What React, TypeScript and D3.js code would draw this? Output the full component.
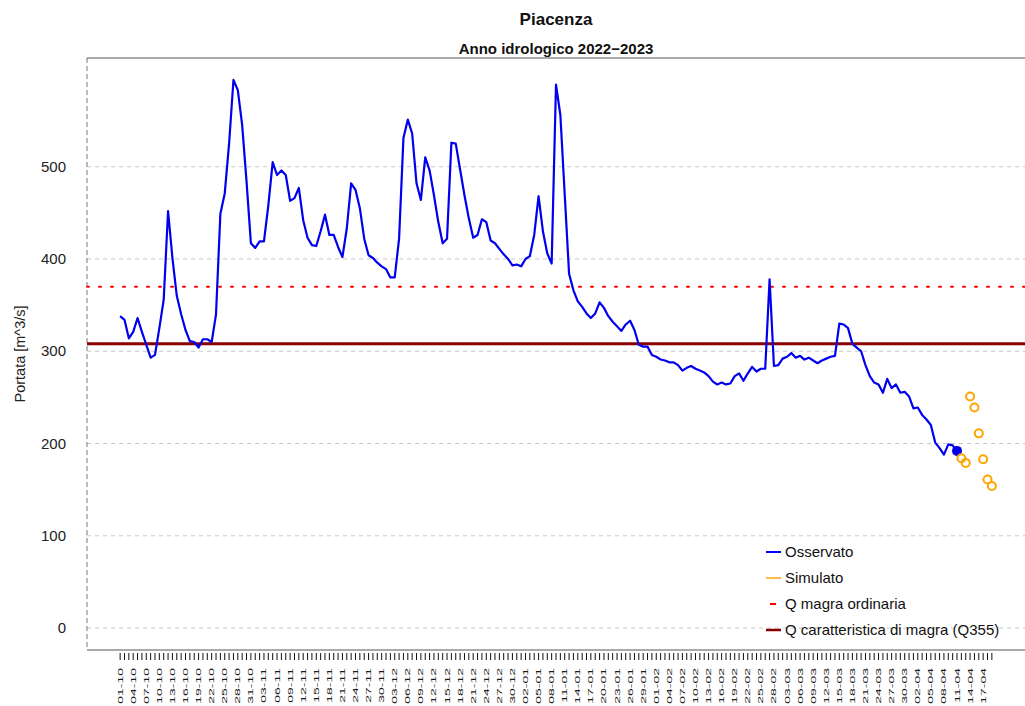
import React from "react";
import * as d3 from "d3";

// hydrological year starts on 1 October
const startDate = new Date(2022, 9, 1);
const endDate = new Date(2023, 3, 20);

// observed daily discharge [m^3/s], one value per day from 01-10-2022
const observed = [
  338, 334, 314, 321, 336, 321, 307, 293, 296, 325,
  356, 452, 401, 360, 340, 323, 311, 310, 304, 313,
  313, 310, 340, 449, 471, 525, 594, 583, 545, 484,
  417, 412, 419, 419, 458, 505, 491, 496, 491, 463,
  466, 477, 442, 423, 415, 414, 430, 448, 426, 426,
  413, 402, 433, 482, 475, 455, 422, 404, 401, 396,
  392, 389, 380, 380, 422, 531, 551, 536, 482, 464,
  510, 496, 469, 440, 417, 422, 526, 525, 497, 469,
  444, 423, 426, 443, 440, 420, 417, 411, 405, 400,
  393, 394, 392, 400, 403, 426, 468, 430, 406, 395,
  589, 556, 470, 384, 366, 354, 348, 341, 336, 341,
  353, 347, 338, 332, 327, 322, 329, 333, 323, 307,
  305, 305, 296, 294, 291, 290, 288, 288, 285, 279,
  282, 284, 281, 279, 277, 273, 267, 264, 266, 264,
  265, 273, 276, 268, 276, 283, 278, 281, 281, 378,
  284, 285, 292, 294, 298, 293, 295, 291, 293, 290,
  287, 290, 292, 294, 295, 330, 329, 325, 308, 304,
  300, 285, 273, 266, 264, 255, 270, 260, 264, 255,
  256, 251, 238, 239, 231, 226, 220, 201, 195, 188,
  199, 198, 192,
];

// simulated values
const simDates = ["2023-04-12", "2023-04-13", "2023-04-14", "2023-04-15", "2023-04-16", "2023-04-17", "2023-04-18", "2023-04-19"];
const simValues = [184, 179, 251, 239, 211, 183, 161, 154];

const qMagraOrdinaria = 370;
const q355 = 308;
const yTicks = [0, 100, 200, 300, 400, 500];

const legendItems = [
  { label: "Osservato", color: "blue", width: 2, x1: 766, x2: 781 },
  { label: "Simulato", color: "orange", width: 1.5, x1: 766, x2: 781 },
  { label: "Q magra ordinaria", color: "red", width: 2, x1: 770, x2: 776 },
  { label: "Q caratteristica di magra (Q355)", color: "darkred", width: 2.5, x1: 766, x2: 781 },
];

const W = 1025;
const H = 706;
const font = "'Liberation Sans', Arial, Helvetica, sans-serif";

export default function App() {
  const days = d3.timeDay.range(startDate, endDate);
  const fmt = d3.timeFormat("%d-%m");
  const parse = d3.timeParse("%Y-%m-%d");

  const left = 87, right = 1025, top = 58, bottom = 650;
  const x = d3.scaleLinear().domain([-7.6, 207.6]).range([left, right]);
  const y = d3.scaleLinear().domain([-23.8, 617.8]).range([bottom, top]);

  const line = d3.line<number>()
    .x((_, i) => x(i))
    .y((d) => y(d));

  const sim = simDates.map((s, i) => ({
    i: d3.timeDay.count(startDate, parse(s) as Date),
    v: simValues[i],
  }));

  const last = observed.length - 1;

  return (
    <svg width={W} height={H} style={{ display: "block", position: "absolute", left: 0, top: 0, background: "#fff" }} fontFamily={font}>
      {/* titles */}
      <text x={556} y={25} textAnchor="middle" fontSize={17} fontWeight="bold" fill="#111">Piacenza</text>
      <text x={556} y={54} textAnchor="middle" fontSize={15} fontWeight="bold" fill="#111">Anno idrologico 2022−2023</text>

      {/* grid */}
      {yTicks.map((t) => (
        <line key={t} x1={left} x2={right} y1={y(t)} y2={y(t)} stroke="#c8c8c8" strokeDasharray="4,4" strokeWidth={1} />
      ))}

      {/* box */}
      <line x1={left} x2={right} y1={top} y2={top} stroke="#555" strokeWidth={1} />
      <line x1={left} x2={right} y1={bottom} y2={bottom} stroke="#555" strokeWidth={1} />
      <line x1={left} x2={left} y1={top} y2={bottom} stroke="#777" strokeWidth={1} strokeDasharray="5,3" />

      {/* y axis labels */}
      {yTicks.map((t) => (
        <text key={t} x={66} y={y(t) + 5} textAnchor="end" fontSize={15} fill="#222">{t}</text>
      ))}
      <text transform={`translate(25,${(top + bottom) / 2}) rotate(-90)`} textAnchor="middle" fontSize={14.5} fill="#222">Portata [m^3/s]</text>

      {/* x ticks */}
      {days.map((d, i) => (
        <line key={i} x1={x(i)} x2={x(i)} y1={653} y2={660} stroke="#111" strokeWidth={1} />
      ))}
      {days.map((d, i) =>
        i % 3 === 0 && i <= 198 ? (
          <text key={i} transform={`translate(${x(i)},668) rotate(-90) scale(1,0.5)`} textAnchor="end" dominantBaseline="central" fontSize={14} fill="#1a1a1a">{fmt(d)}</text>
        ) : null
      )}

      {/* reference lines */}
      <line x1={left} x2={right} y1={y(qMagraOrdinaria)} y2={y(qMagraOrdinaria)} stroke="red" strokeWidth={2} strokeDasharray="2,10" strokeLinecap="round" />
      <line x1={left} x2={right} y1={y(q355)} y2={y(q355)} stroke="darkred" strokeWidth={3} />

      {/* observed */}
      <path d={line(observed) || ""} fill="none" stroke="#0000ee" strokeWidth={2.2} strokeLinejoin="round" />
      <circle cx={x(last)} cy={y(observed[last])} r={5} fill="#0000ee" />

      {/* simulated */}
      {sim.map((p, i) => (
        <circle key={i} cx={x(p.i)} cy={y(p.v)} r={4} fill="none" stroke="orange" strokeWidth={2} />
      ))}

      {/* legend */}
      {legendItems.map((it, i) => (
        <g key={it.label}>
          <line x1={it.x1} x2={it.x2} y1={552 + i * 26} y2={552 + i * 26} stroke={it.color} strokeWidth={it.width} />
          <text x={785} y={557 + i * 26} fontSize={15} fill="#111">{it.label}</text>
        </g>
      ))}
    </svg>
  );
}
